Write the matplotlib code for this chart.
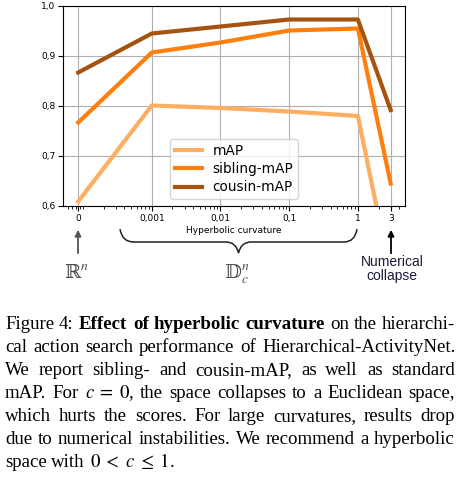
import numpy as np
import matplotlib
matplotlib.use("Agg")
import matplotlib.pyplot as plt
from matplotlib.ticker import FixedLocator, FixedFormatter, LogLocator, NullFormatter
from matplotlib.transforms import Affine2D
from matplotlib.path import Path
from matplotlib.patches import PathPatch

# curvature values (0 is put at a small value so it fits on the log axis)
curv_labels = ['0', '0,001', '0,01', '0,1', '1', '3']
curv_pos = [8.5e-5, 1e-3, 1e-2, 1e-1, 1.0, 3.0]

map_vals = [0.609, 0.801, 0.796, 0.789, 0.780, 0.46]
sibling_vals = [0.767, 0.907, 0.927, 0.951, 0.955, 0.645]
cousin_vals = [0.867, 0.945, 0.959, 0.973, 0.973, 0.792]

y_ticks = [0.6, 0.7, 0.8, 0.9, 1.0]

caption = [
    [("Figure 4:", "normal"), ("Effect of hyperbolic curvature", "bold"), ("on the hierarchi-", "normal")],
    [("cal action search performance of Hierarchical-ActivityNet.", "normal")],
    [("We report sibling- and cousin-mAP, as well as standard", "normal")],
    [("mAP. For $c\\;=\\;0$, the space collapses to a Euclidean space,", "normal")],
    [("which hurts the scores. For large curvatures, results drop", "normal")],
    [("due to numerical instabilities. We recommend a hyperbolic", "normal")],
    [("space with $0\\;<\\;c\\;\\leq\\;1$.", "normal")],
]

W, H = 464, 480
fig = plt.figure(figsize=(W / 100, H / 100), dpi=100)
# pixel coords measured from the top-left corner
px = Affine2D().scale(1 / W, -1 / H).translate(0, 1) + fig.transFigure

ax = fig.add_axes([63 / W, 1 - 206 / H, 342 / W, 200 / H])
ax.plot(curv_pos, map_vals, color='#fdae61', lw=3, label='mAP')
ax.plot(curv_pos, sibling_vals, color='#ff7f0e', lw=3, label='sibling-mAP')
ax.plot(curv_pos, cousin_vals, color='#a6530f', lw=3, label='cousin-mAP')

ax.set_xscale('log')
ax.set_xlim(5.1e-5, 4.85)
ax.set_ylim(0.6, 1.0)
ax.xaxis.set_major_locator(FixedLocator(curv_pos))
ax.xaxis.set_major_formatter(FixedFormatter(curv_labels))
ax.xaxis.set_minor_locator(LogLocator(subs=np.arange(1, 10), numticks=50))
ax.xaxis.set_minor_formatter(NullFormatter())
ax.set_yticks(y_ticks)
ax.set_yticklabels([('%.1f' % v).replace('.', ',') for v in y_ticks])
ax.tick_params(labelsize=6.5, length=3.5, pad=2)
ax.tick_params(which='minor', length=2)
ax.grid(True, color='#b0b0b0', lw=0.8)
ax.set_xlabel('Hyperbolic curvature', fontsize=6.5, labelpad=2.5)
ax.legend(loc='lower center', fontsize=9.8, labelspacing=0.32, borderpad=0.35)

# annotations below the axis
ax.annotate('', xy=(78, 227), xytext=(78, 256), xycoords=px, textcoords=px,
            arrowprops=dict(arrowstyle='-|>', color='#555555', lw=1.3, mutation_scale=9))
ax.annotate('', xy=(391, 227), xytext=(391, 256), xycoords=px, textcoords=px,
            arrowprops=dict(arrowstyle='-|>', color='black', lw=1.3, mutation_scale=9))

verts = [(120, 229), (122, 242), (134, 242), (226, 242), (236, 242), (238.5, 253),
         (241, 242), (251, 242), (344, 242), (355, 242), (357, 229)]
codes = [Path.MOVETO, Path.CURVE3, Path.CURVE3, Path.LINETO, Path.CURVE3, Path.CURVE3,
         Path.CURVE3, Path.CURVE3, Path.LINETO, Path.CURVE3, Path.CURVE3]
fig.add_artist(PathPatch(Path(verts, codes), transform=px, fill=False, lw=1.1, color='#222222'))

sym_fonts = ['DejaVu Serif', 'DejaVu Sans', 'Noto Sans']
fig.text(76, 273, '\u211d$^{n}$', transform=px, ha='center', va='center',
         fontsize=14, family=sym_fonts, math_fontfamily='stix', color='#4a4a4a')
fig.text(237, 274, '\U0001D53B$_{c}^{n}$', transform=px, ha='center', va='center',
         fontsize=14, family=sym_fonts, math_fontfamily='stix', color='#4a4a4a')
fig.text(392, 269, 'Numerical\ncollapse', transform=px, ha='center', va='center',
         fontsize=10, family='Liberation Sans', color='#1a1a3a', linespacing=1.05)

# justified caption
renderer = fig.canvas.get_renderer()
left, right = 5, 455
baselines = [329, 352, 375, 398, 421, 444, 467]
for i, line in enumerate(caption):
    words = []
    for chunk, weight in line:
        for w in chunk.split(' '):
            words.append((w, weight))
    texts = [fig.text(0, 0, w, transform=px, fontsize=13.6, family='Liberation Serif',
                      weight=wt, math_fontfamily='stix', va='baseline')
             for w, wt in words]
    widths = [t.get_window_extent(renderer).width for t in texts]
    if i == len(caption) - 1:
        gap = 0.25 * 13.6 * 100 / 72
    else:
        gap = (right - left - sum(widths)) / (len(words) - 1)
    x = left
    for t, w in zip(texts, widths):
        t.set_position((round(x), baselines[i]))
        x += w + gap

fig.savefig('out.png', dpi=100)
